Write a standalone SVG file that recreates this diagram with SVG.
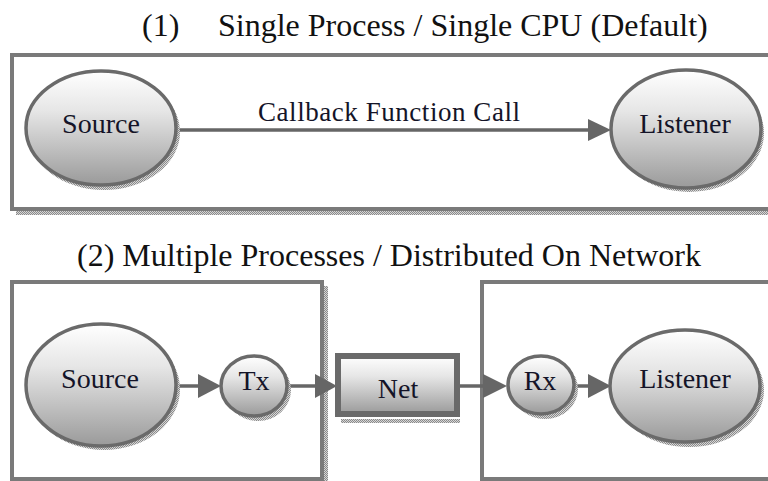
<svg xmlns="http://www.w3.org/2000/svg" width="768" height="481" viewBox="0 0 768 481">
<defs>
<linearGradient id="g" x1="0" y1="0" x2="0" y2="1">
<stop offset="0" stop-color="#ffffff"/>
<stop offset="0.35" stop-color="#e6e6e6"/>
<stop offset="1" stop-color="#9a9a9a"/>
</linearGradient>
<pattern id="dots" width="2" height="2" patternUnits="userSpaceOnUse">
<rect width="2" height="2" fill="#d6d6d6"/>
<rect width="1" height="1" fill="#8a8a8a"/>
<rect x="1" y="1" width="1" height="1" fill="#8a8a8a"/>
</pattern>
<style>
.box{fill:#fff;stroke:#7a7a7a;stroke-width:4}
.node{fill:url(#g);stroke:#6a6a6a;stroke-width:3.5}
.shadow{fill:url(#dots);stroke:none}
.lbl{font-family:'Liberation Serif','DejaVu Serif',serif;font-size:28px;fill:#141428;text-anchor:middle}
.title{font-family:'Liberation Serif','DejaVu Serif',serif;font-size:32px;fill:#111}
.cb{font-family:'Liberation Serif','DejaVu Serif',serif;font-size:27px;fill:#141428;text-anchor:middle}
.edge{stroke:#666;stroke-width:3.5;fill:none}
.head{fill:#666}
</style>
</defs>
<rect width="768" height="481" fill="#fff"/>

<text class="title" x="142" y="36">(1)</text>
<text class="title" x="218" y="36">Single Process / Single CPU (Default)</text>
<text class="title" x="77" y="266">(2) Multiple Processes / Distributed On Network</text>

<g id="box1">
<rect class="shadow" x="16" y="211" width="760" height="4"/>
<rect class="box" x="12" y="55" width="770" height="154"/>
</g>
<g id="box2">
<rect class="shadow" x="324" y="286" width="4" height="195"/>
<rect class="box" x="12" y="282" width="310" height="197"/>
</g>
<g id="box3">
<rect class="box" x="482" y="282" width="300" height="197"/>
</g>

<g id="connectors">
<line class="edge" x1="177" y1="130" x2="590" y2="130"/>
<polygon class="head" points="588,119 611,130 588,141"/>
<line class="edge" x1="177" y1="386" x2="200" y2="386"/>
<polygon class="head" points="198,374 221,386 198,398"/>
<line class="edge" x1="288" y1="386" x2="317" y2="386"/>
<polygon class="head" points="315,374 337,386 315,398"/>
<line class="edge" x1="460" y1="386" x2="485" y2="386"/>
<polygon class="head" points="483,374 507,386 483,398"/>
<line class="edge" x1="575" y1="386" x2="590" y2="386"/>
<polygon class="head" points="588,374 611,386 588,398"/>
</g>
<text class="cb" x="389" y="121" textLength="262" lengthAdjust="spacing">Callback Function Call</text>

<g id="source1">
<ellipse class="shadow" cx="104" cy="132" rx="76" ry="58"/>
<ellipse class="node" cx="101" cy="128" rx="75" ry="57"/>
<text class="lbl" x="101" y="133">Source</text>
</g>
<g id="listener1">
<ellipse class="shadow" cx="689" cy="133" rx="75" ry="59"/>
<ellipse class="node" cx="686" cy="129" rx="75" ry="59"/>
<text class="lbl" x="685" y="133">Listener</text>
</g>

<g id="source2">
<ellipse class="shadow" cx="104" cy="389" rx="76" ry="61"/>
<ellipse class="node" cx="101" cy="385" rx="75" ry="61"/>
<text class="lbl" x="100" y="388">Source</text>
</g>
<g id="tx">
<ellipse class="shadow" cx="258" cy="390" rx="33" ry="31"/>
<ellipse class="node" cx="254" cy="386" rx="33" ry="30"/>
<text class="lbl" x="254" y="390">Tx</text>
</g>
<g id="net">
<rect class="shadow" x="341" y="419" width="119" height="4"/>
<rect x="338" y="356" width="119" height="58" fill="url(#g)" stroke="#6a6a6a" stroke-width="6"/>
<text class="lbl" x="398" y="398" font-size="30">Net</text>
</g>
<g id="rx">
<ellipse class="shadow" cx="545" cy="389" rx="33" ry="30"/>
<ellipse class="node" cx="541" cy="385" rx="33" ry="29"/>
<text class="lbl" x="540" y="390">Rx</text>
</g>
<g id="listener2">
<ellipse class="shadow" cx="689" cy="390" rx="75" ry="57"/>
<ellipse class="node" cx="685" cy="386" rx="75" ry="56"/>
<text class="lbl" x="685" y="388">Listener</text>
</g>
</svg>
